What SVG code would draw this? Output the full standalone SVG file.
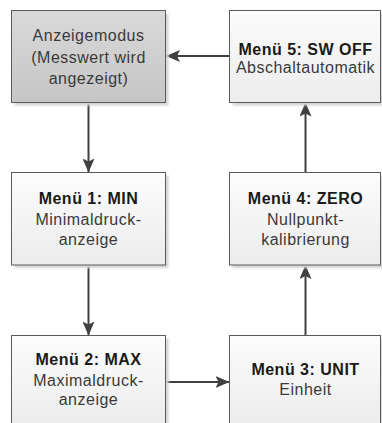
<svg xmlns="http://www.w3.org/2000/svg" width="382" height="423" viewBox="0 0 382 423">
<style>
.box{fill:url(#gw);stroke:#5a5a5a;stroke-width:1}
.gray{fill:url(#gg)}
.sh{fill:#d4d4d4;filter:url(#bl)}
text{font-family:"Liberation Sans",Arial,sans-serif;font-size:16px;text-anchor:middle;letter-spacing:0.5px}
.b{font-weight:bold;fill:#1a1a1a}
.r{fill:#3a3a3a}
.c{stroke:#404040;stroke-width:2;fill:none;marker-end:url(#ah)}
</style>
<defs>
<linearGradient id="gw" x1="0" y1="0" x2="0" y2="1"><stop offset="0" stop-color="#fcfcfc"/><stop offset="1" stop-color="#ececec"/></linearGradient>
<linearGradient id="gg" x1="0" y1="0" x2="0" y2="1"><stop offset="0" stop-color="#d9d9d9"/><stop offset="1" stop-color="#c6c6c6"/></linearGradient>
<filter id="bl" x="-10%" y="-10%" width="120%" height="120%"><feGaussianBlur stdDeviation="1.2"/></filter>
<marker id="ah" viewBox="0 0 14 12" refX="14" refY="6" markerWidth="14" markerHeight="12" markerUnits="userSpaceOnUse" orient="auto"><path d="M0,0 L14,6 L0,12 L3,6 Z" fill="#404040"/></marker>
</defs>
<rect width="382" height="423" fill="#ffffff"/>
<g id="connectors">
<line class="c" x1="229.5" y1="56" x2="166" y2="56"/>
<line class="c" x1="88.5" y1="102.5" x2="88.5" y2="172.5"/>
<line class="c" x1="88.5" y1="265" x2="88.5" y2="335.5"/>
<line class="c" x1="166" y1="382" x2="229.5" y2="382"/>
<line class="c" x1="305.5" y1="335.5" x2="305.5" y2="265"/>
<line class="c" x1="305.5" y1="172.5" x2="305.5" y2="102.5"/>
</g>
<g id="anzeigemodus">
<rect class="sh" x="14.5" y="13.5" width="154" height="92"/>
<rect class="box gray" x="11.5" y="10.5" width="154" height="92"/>
<text class="r" x="88.5" y="41">Anzeigemodus</text>
<text class="r" x="88.5" y="62.5">(Messwert wird</text>
<text class="r" x="88.5" y="83.5">angezeigt)</text>
</g>
<g id="menu5">
<rect class="sh" x="232.5" y="13.5" width="151" height="92"/>
<rect class="box" x="229.5" y="10.5" width="151" height="92"/>
<text class="b" x="305.5" y="55">Menü 5: SW OFF</text>
<text class="r" x="305.5" y="73">Abschaltautomatik</text>
</g>
<g id="menu1">
<rect class="sh" x="14.5" y="175.5" width="154" height="92.5"/>
<rect class="box" x="11.5" y="172.5" width="154" height="92.5"/>
<text class="b" x="88.5" y="204">Menü 1: MIN</text>
<text class="r" x="88.5" y="225">Minimaldruck-</text>
<text class="r" x="88.5" y="245">anzeige</text>
</g>
<g id="menu4">
<rect class="sh" x="232.5" y="175.5" width="151" height="92.5"/>
<rect class="box" x="229.5" y="172.5" width="151" height="92.5"/>
<text class="b" x="305.5" y="204">Menü 4: ZERO</text>
<text class="r" x="305.5" y="225">Nullpunkt-</text>
<text class="r" x="305.5" y="245">kalibrierung</text>
</g>
<g id="menu2">
<rect class="sh" x="14.5" y="338.5" width="154" height="92"/>
<rect class="box" x="11.5" y="335.5" width="154" height="92"/>
<text class="b" x="88.5" y="365">Menü 2: MAX</text>
<text class="r" x="88.5" y="386">Maximaldruck-</text>
<text class="r" x="88.5" y="405">anzeige</text>
</g>
<g id="menu3">
<rect class="sh" x="232.5" y="338.5" width="151" height="92"/>
<rect class="box" x="229.5" y="335.5" width="151" height="92"/>
<text class="b" x="305.5" y="375">Menü 3: UNIT</text>
<text class="r" x="305.5" y="395">Einheit</text>
</g>
</svg>
